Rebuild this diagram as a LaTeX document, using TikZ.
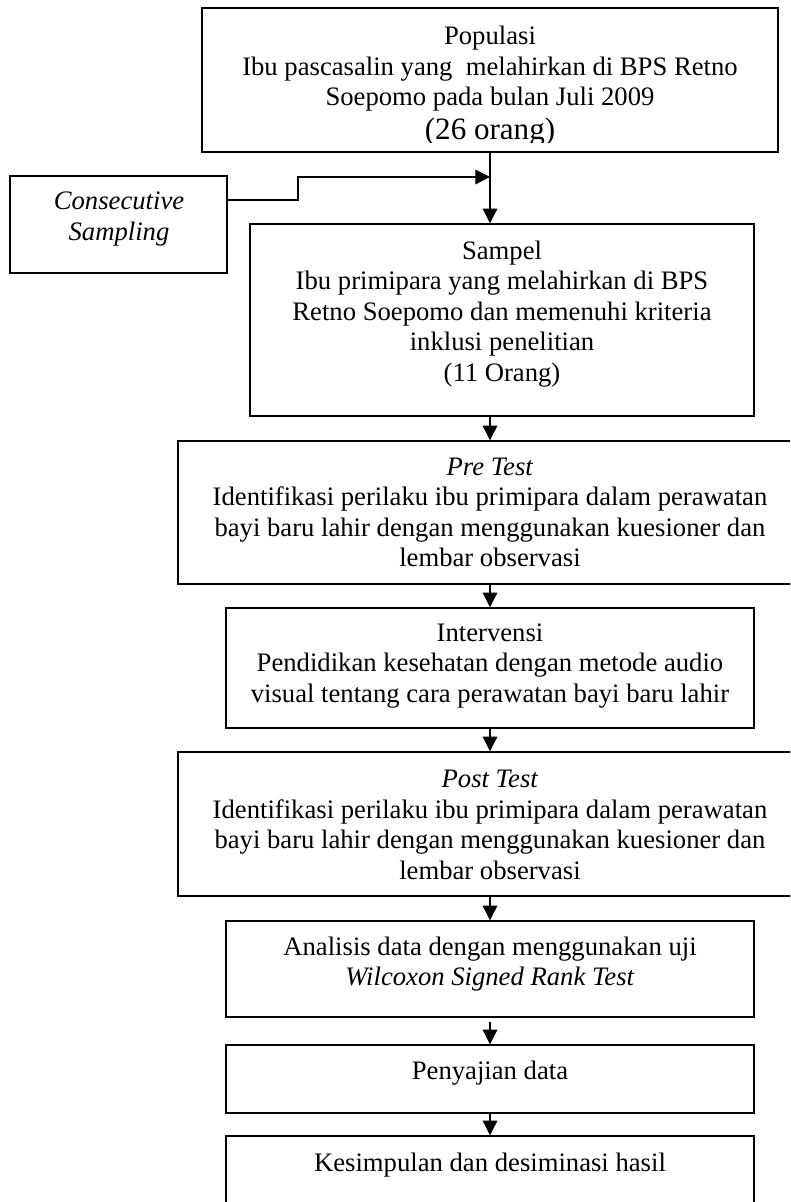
\documentclass[tikz,border=0pt]{standalone}
\usepackage{fontspec}
\setmainfont{Liberation Serif}
\usetikzlibrary{arrows.meta,fit}

\begin{document}
\begin{tikzpicture}[x=0.75pt,y=-0.75pt,
  box/.style={draw, line width=1.1pt, inner sep=0pt},
  txt/.style={align=center, font=\fontsize{20}{22.9}\selectfont, inner sep=0pt},
  arr/.style={line width=0.9pt, -{Triangle[length=11pt,width=11pt]}}]
\useasboundingbox (0,0) rectangle (790,1202);
\clip (0,0) rectangle (790,1202);

% frames of the flow chart
\node[box, fit={(202,8) (778,152)}] (pop) {};
\node[box, fit={(10,176) (227,273)}] (cons) {};
\node[box, fit={(250,224) (754,416)}] (samp) {};
\node[box, fit={(178,441) (802,584)}] (pre) {};
\node[box, fit={(226,608) (754,728)}] (inter) {};
\node[box, fit={(178,752) (802,896)}] (post) {};
\node[box, fit={(226,921) (754,1017)}] (anal) {};
\node[box, fit={(226,1045) (754,1113)}] (peny) {};
\node[box, fit={(226,1136) (754,1206)}] (kes) {};

% texts; the population text is cut off by its text area
\begin{scope}
  \clip (202,8) rectangle (778,143);
  \node[txt] (popT) at (490,86) {Populasi\\Ibu pascasalin yang\ \ melahirkan di BPS Retno\\Soepomo pada bulan Juli 2009\\[2pt]{\fontsize{23.3}{26}\selectfont (26 orang)}};
\end{scope}
\node[txt] (consT) at (119,219) {\textit{Consecutive}\\\textit{Sampling}};
\node[txt] (sampT) at (502,314) {Sampel\\Ibu primipara yang melahirkan di BPS\\Retno Soepomo dan memenuhi kriteria\\inklusi penelitian\\(11 Orang)};
\node[txt] (preT) at (490,512.5) {\textit{Pre Test}\\Identifikasi perilaku ibu primipara dalam perawatan\\bayi baru lahir dengan menggunakan kuesioner dan\\lembar observasi};
\node[txt] (interT) at (490,666) {Intervensi\\Pendidikan kesehatan dengan metode audio\\visual tentang cara perawatan bayi baru lahir};
\node[txt] (postT) at (490,825) {\textit{Post Test}\\Identifikasi perilaku ibu primipara dalam perawatan\\bayi baru lahir dengan menggunakan kuesioner dan\\lembar observasi};
\node[txt] (analT) at (490,964) {Analisis data dengan menggunakan uji\\\textit{Wilcoxon Signed Rank Test}};
\node[txt] (penyT) at (490,1073) {Penyajian data};
\node[txt] (kesT) at (490,1165) {Kesimpulan dan desiminasi hasil};

% connectors
\coordinate (join) at (490,177);
\draw[arr] (pop.south) -- (pop.south |- samp.north);
\draw[arr] ([yshift=18.4pt]cons.east) -| (298,177) -- (join);
\draw[arr] (pre.north |- samp.south) -- (pre.north);
\draw[arr] (pre.south) -- (inter.north);
\draw[arr] (inter.south) -- (post.north);
\draw[arr] (post.south) -- (anal.north);
\draw[arr, shorten <=3pt] (anal.south) -- (peny.north);
\draw[arr] (peny.south) -- (kes.north);
\end{tikzpicture}
\end{document}
